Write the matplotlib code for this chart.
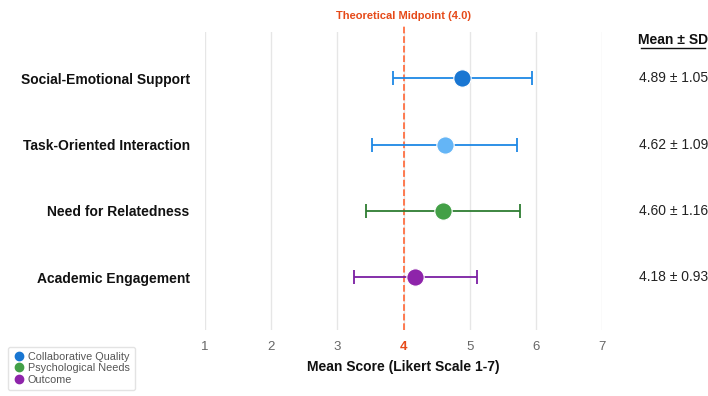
import matplotlib.pyplot as plt
from matplotlib.lines import Line2D

plt.rcParams['font.family'] = ['Liberation Sans', 'DejaVu Sans']

labels = ["Social-Emotional Support", "Task-Oriented Interaction",
          "Need for Relatedness", "Academic Engagement"]
means = [4.89, 4.62, 4.60, 4.18]
sds = [1.05, 1.09, 1.16, 0.93]
marker_colors = ["#1976d2", "#64b5f6", "#43a047", "#8e24aa"]
line_colors = ["#1e88e5", "#1e88e5", "#2e7d32", "#7b1fa2"]
legend_names = ["Collaborative Quality", "Psychological Needs", "Outcome"]
legend_colors = ["#1976d2", "#43a047", "#8e24aa"]
midpoint = 4.0

fig = plt.figure(figsize=(7.08, 3.96), dpi=100)
ax = fig.add_axes([205/708, 1-330/396, 397/708, 298/396])

for i in range(len(labels)):
    ax.errorbar(means[i], i, xerr=sds[i], fmt='none', ecolor=line_colors[i],
                elinewidth=1.3, capsize=5, capthick=1.3, zorder=3)
    ax.plot(means[i], i, 'o', color=marker_colors[i], markersize=12.5,
            markeredgecolor='white', markeredgewidth=0.8, zorder=4)
    ax.text(1.18, i, f"{means[i]:.2f} ± {sds[i]:.2f}", transform=ax.get_yaxis_transform(),
            ha='center', va='center', fontsize=10, color='#222222')

# midpoint reference line, a bit taller than the axes
ax.plot([midpoint, midpoint], [3.8, -0.82], color='#ff7043', linestyle='--',
        linewidth=1.3, zorder=2, clip_on=False)
ax.text(midpoint, 1.055, "Theoretical Midpoint (4.0)", transform=ax.get_xaxis_transform(),
        ha='center', va='center', fontsize=8, fontweight='bold', color='#e64a19')
ax.text(1.18, 0.972, "Mean ± SD", transform=ax.transAxes, ha='center', va='center',
        fontsize=10, fontweight='bold', color='#111111')
ax.plot([1.097, 1.26], [0.945, 0.945], transform=ax.transAxes, color='#111111',
        linewidth=1, clip_on=False)

ax.set_xlim(1, 7)
ax.set_ylim(3.8, -0.7)
ax.set_xticks(range(1, 8))
ax.set_yticks(range(len(labels)))
ax.set_yticklabels(labels, fontsize=10, fontweight='bold', color='#111111')
ax.tick_params(axis='y', length=0, pad=11)
ax.tick_params(axis='x', length=0, pad=8, labelsize=9.5, labelcolor='#666666')
for t in ax.get_xticklabels():
    if t.get_text() == "4":
        t.set_color('#e64a19')
        t.set_fontweight('bold')
ax.grid(axis='x', color='#e6e6e6', linewidth=1)
ax.set_axisbelow(True)
for s in ax.spines.values():
    s.set_visible(False)
ax.set_xlabel("Mean Score (Likert Scale 1-7)", fontsize=10, fontweight='bold',
              color='#111111', labelpad=5)

handles = [Line2D([], [], marker='o', linestyle='none', color=c, markersize=6)
           for c in legend_colors]
leg = fig.legend(handles, legend_names, loc='lower left', bbox_to_anchor=(8/708, 6/396),
                 fontsize=7.8, frameon=True, handletextpad=0.3, labelspacing=0.12,
                 borderpad=0.5, handlelength=1.0, borderaxespad=0)
leg.get_frame().set_edgecolor('#dddddd')
for t in leg.get_texts():
    t.set_color('#555555')

fig.savefig("out.png", dpi=100)
